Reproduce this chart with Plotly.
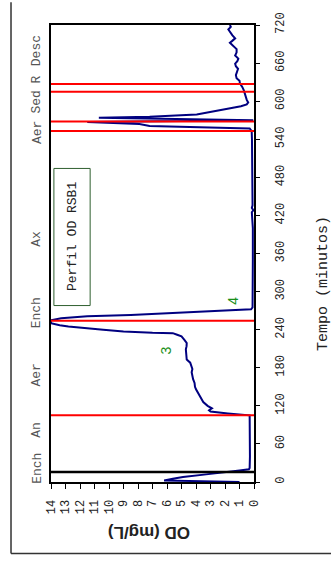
import plotly.graph_objects as go

# Dissolved oxygen profile of the SBR cycle (time in minutes, OD in mg/L)
tempo = [0, 2.5, 5, 8, 12, 15, 18, 20, 22, 40, 60, 80, 100, 105, 108, 111, 113, 116,
         120, 126, 130, 134, 138, 142, 146, 150, 156, 162, 168, 173, 178, 183, 188,
         193, 200, 205, 209, 214, 219, 224, 227, 229.5, 232, 234.5, 235, 237, 240,
         242, 245, 247, 250, 254, 255, 258, 261, 263, 265, 268, 270, 271, 272, 275,
         300, 350, 400, 420, 425, 428, 432, 436, 450, 500, 540, 553, 557, 561, 564,
         567, 570, 574, 575.5, 579, 583, 587, 592, 595, 598, 602, 607, 612, 617, 622,
         628, 632, 636, 641, 646, 651, 655, 659, 663, 667, 672, 677, 682, 687, 692,
         695, 699, 704, 709, 713, 717, 720]
od = [1.0, 6.2, 5.6, 4.9, 3.3, 2.0, 1.0, 0.35, 0.3, 0.28, 0.28, 0.28, 0.28, 0.3, 1.8,
      3.0, 3.1, 2.9, 3.2, 3.5, 3.6, 3.7, 3.85, 3.95, 4.0, 4.07, 4.1, 4.2, 4.25, 4.3,
      4.25, 4.3, 4.4, 4.64, 4.66, 4.72, 4.7, 4.65, 4.64, 4.8, 4.9, 5.0, 5.3, 5.6, 7.0,
      9.0, 10.4, 11.5, 12.8, 13.4, 14.0, 14.0, 14.0, 13.3, 11.5, 8.5, 6.5, 4.0, 2.0,
      0.8, 0.2, 0.1, 0.08, 0.08, 0.08, 0.1, 0.15, 0.05, 0.15, 0.1, 0.1, 0.12, 0.14,
      0.16, 0.3, 7.2, 7.9, 11.5, 0.05, 10.7, 7.2, 3.95, 3.0, 2.0, 0.9, 0.5, 0.4, 0.5,
      0.55, 0.62, 0.7, 0.8, 0.97, 1.0, 1.2, 1.25, 1.15, 1.1, 1.25, 1.3, 1.15, 1.08,
      1.3, 1.2, 1.2, 1.45, 1.66, 1.5, 1.3, 1.5, 1.66, 1.77, 1.6, 1.66]

# Phase boundaries
inicio_ench = [15.7]
limites_fase = [105, 254, 553, 568, 615, 627]

# Phase names written along the time axis
fases = ["Ench", "An", "Aer", "Ench", "Ax", "Aer", "Sed", "R", "Desc"]
fases_t = [22, 82, 169, 267, 383, 551, 599, 634, 680]

# Step markers
marcas = ["3", "4"]
marcas_t = [207, 285]
marcas_od = [6.07, 1.41]

od_ticks = list(range(0, 15))
tempo_ticks = list(range(0, 721, 60))

FONT = "Liberation Mono"

fig = go.Figure()
fig.add_trace(go.Scatter(x=od, y=tempo, mode="lines",
                         line=dict(color="#000080", width=2), showlegend=False))

shapes = []
for t in inicio_ench:
    shapes.append(dict(type="line", xref="paper", yref="y", x0=0, x1=1, y0=t, y1=t,
                       line=dict(color="black", width=2.5)))
for t in limites_fase:
    shapes.append(dict(type="line", xref="paper", yref="y", x0=0, x1=1, y0=t, y1=t,
                       line=dict(color="#ff0000", width=2)))

# Outer frame (left and bottom edges)
shapes.append(dict(type="line", xref="paper", yref="paper", x0=-0.197, x1=-0.197,
                   y0=-0.1565, y1=1.05, line=dict(color="#333333", width=1.5)))
shapes.append(dict(type="line", xref="paper", yref="paper", x0=-0.197, x1=1.4,
                   y0=-0.1565, y1=-0.1565, line=dict(color="#333333", width=1.5)))

# Title box
shapes.append(dict(type="rect", xref="x", yref="y", x0=13.8, x1=11.3, y0=278, y1=494,
                   line=dict(color="#2f5f2f", width=1), fillcolor="white", layer="below"))

annotations = []


def note(**kw):
    kw.setdefault("showarrow", False)
    kw.setdefault("xanchor", "center")
    kw.setdefault("yanchor", "middle")
    annotations.append(kw)


for nome, t in zip(fases, fases_t):
    note(x=-0.07, xref="paper", y=t, yref="y", text=nome, textangle=-90,
         font=dict(family=FONT, size=13, color="#555555"))
for txt, t, v in zip(marcas, marcas_t, marcas_od):
    note(x=v, y=t, xref="x", yref="y", text=txt, textangle=-90,
         font=dict(family="Arial", size=14, color="#1a8f1a"))
note(x=12.55, y=386, xref="x", yref="y", text="Perfil OD RSB1", textangle=-90,
     font=dict(family=FONT, size=13, color="#222222"))
note(x=1.345, xref="paper", y=312, yref="y", text="Tempo (minutos)", textangle=-90,
     font=dict(family=FONT, size=15, color="#222222"))
note(x=0.483, xref="paper", y=-0.111, yref="paper", text="<b>OD (mg/L)</b>",
     textangle=180, font=dict(family="Arial", size=17, color="#222222"))

fig.update_layout(
    width=331, height=566,
    margin=dict(l=51, r=77, t=15, b=84),
    paper_bgcolor="white", plot_bgcolor="white",
    shapes=shapes, annotations=annotations,
    xaxis=dict(range=[14, 0], tickvals=od_ticks, ticks="outside", ticklen=5,
               tickangle=-90, showgrid=False, zeroline=False, showline=True,
               mirror=True, linecolor="black", linewidth=2, tickcolor="black",
               ticklabelstandoff=6,
               tickfont=dict(family=FONT, size=12, color="#222222")),
    yaxis=dict(range=[0, 720], tickvals=tempo_ticks, side="right", ticks="outside",
               ticklen=4, tickangle=-90, showgrid=False, zeroline=False,
               showline=True, mirror=True, linecolor="black", linewidth=2,
               tickcolor="black", ticklabelstandoff=10,
               tickfont=dict(family=FONT, size=12, color="#222222")),
)

fig.write_html("out.html")
